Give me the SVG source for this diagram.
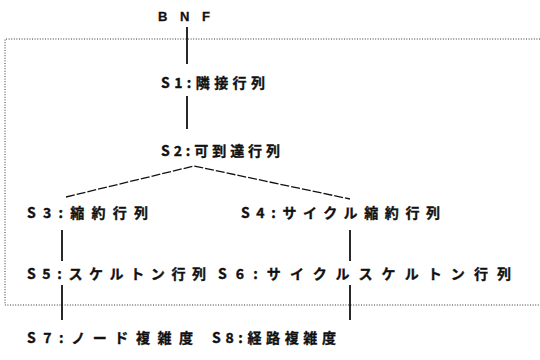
<svg xmlns="http://www.w3.org/2000/svg" width="540" height="360" viewBox="0 0 540 360">
<style>
.t{font-family:"Noto Sans CJK JP","Noto Sans",sans-serif;font-weight:bold;font-size:14px;fill:#111;stroke:#111;stroke-width:0.35}
.l{font-family:"Liberation Sans","Noto Sans",sans-serif;font-weight:bold;font-size:13px;fill:#111;stroke:#111;stroke-width:0.3}
.c{stroke:#111;stroke-width:1.8;fill:none}
.d{stroke:#111;stroke-width:1.3;fill:none;stroke-dasharray:9 2}
.b{stroke:#333;stroke-width:1;fill:none;stroke-dasharray:1 1.6}
</style>
<rect width="540" height="360" fill="#fff"/>
<polyline class="b" points="540,39 5,39 5,305 540,305"/>
<g id="connectors">
<line class="c" x1="187" y1="27" x2="187" y2="64"/>
<line class="c" x1="187" y1="96" x2="187" y2="129"/>
<polyline class="d" points="66,197 194,166 350,199"/>
<line class="c" x1="62" y1="230" x2="62" y2="261"/>
<line class="c" x1="350" y1="230" x2="350" y2="261"/>
<line class="c" x1="62" y1="285" x2="62" y2="320"/>
<line class="c" x1="350" y1="285" x2="350" y2="320"/>
</g>
<g id="bnf"><text class="l" x="158" y="21" textLength="52" lengthAdjust="spacing">B N F</text></g>
<g id="s1"><text class="t" x="161" y="88" textLength="104" lengthAdjust="spacing">S1:隣接行列</text></g>
<g id="s2"><text class="t" x="161" y="156" textLength="119" lengthAdjust="spacing">S2:可到達行列</text></g>
<g id="s3"><text class="t" x="27" y="218" textLength="121" lengthAdjust="spacing">S3:縮約行列</text></g>
<g id="s4"><text class="t" x="241" y="218" textLength="199" lengthAdjust="spacing">S4:サイクル縮約行列</text></g>
<g id="s5"><text class="t" x="27" y="279" textLength="179" lengthAdjust="spacing">S5:スケルトン行列</text></g>
<g id="s6"><text class="t" x="218" y="279" textLength="293" lengthAdjust="spacing">S6:サイクルスケルトン行列</text></g>
<g id="s7"><text class="t" x="27" y="343" textLength="166" lengthAdjust="spacing">S7:ノード複雑度</text></g>
<g id="s8"><text class="t" x="212" y="343" textLength="124" lengthAdjust="spacing">S8:経路複雑度</text></g>
</svg>
